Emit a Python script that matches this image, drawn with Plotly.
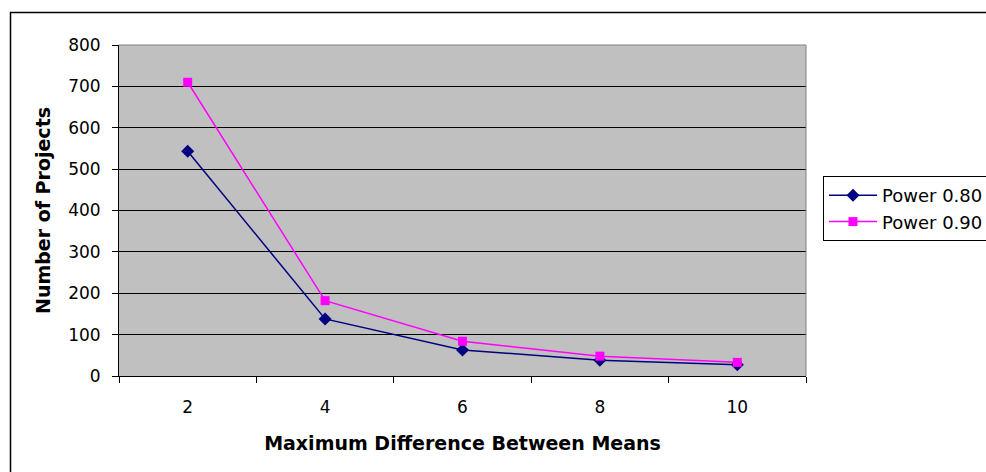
import plotly.graph_objects as go

categories = ["2", "4", "6", "8", "10"]
power_080 = [543, 138, 63, 38, 27]
power_090 = [710, 182, 84, 48, 33]
y_ticks = [0, 100, 200, 300, 400, 500, 600, 700, 800]

W, H = 986, 472
L, R, T, B = 119, 806, 45, 376
pw, ph = R - L, B - T

def px(x):
    return (x - L) / pw

def py(y):
    return (B - y) / ph

font = "DejaVu Sans, Arial, sans-serif"

fig = go.Figure()
fig.add_trace(go.Scatter(
    x=categories, y=power_080, mode="lines+markers", name="Power 0.80",
    line=dict(color="#000080", width=1.5),
    marker=dict(symbol="diamond", size=10, color="#000080"),
))
fig.add_trace(go.Scatter(
    x=categories, y=power_090, mode="lines+markers", name="Power 0.90",
    line=dict(color="#FF00FF", width=1.5),
    marker=dict(symbol="square", size=9, color="#FF00FF"),
))

fig.update_layout(
    width=W, height=H,
    margin=dict(l=L, r=W - R, t=T, b=H - B, pad=0, autoexpand=False),
    paper_bgcolor="white",
    plot_bgcolor="#C0C0C0",
    font=dict(family=font, size=17, color="black"),
    showlegend=True,
    legend=dict(
        x=px(823), y=py(176), xanchor="left", yanchor="top",
        bordercolor="black", borderwidth=1, bgcolor="white",
        font=dict(family=font, size=18, color="black"),
        tracegroupgap=0, itemwidth=48,
    ),
    xaxis=dict(
        type="category", tickson="boundaries", ticks="outside", ticklen=6,
        tickcolor="black", showline=True, linecolor="black", linewidth=1,
        showgrid=False, zeroline=False, range=[-0.5, 4.5],
        tickfont=dict(family=font, size=17), ticklabelstandoff=16,
        title=dict(text="<b>Maximum Difference Between Means</b>",
                   font=dict(family=font, size=19), standoff=20),
    ),
    yaxis=dict(
        range=[0, 800], tickvals=y_ticks, ticks="outside", ticklen=6,
        tickcolor="black", showline=True, linecolor="black", linewidth=1,
        showgrid=True, gridcolor="black", gridwidth=1, zeroline=False,
        tickfont=dict(family=font, size=17), ticklabelstandoff=8,
        title=dict(text="<b>Number of Projects</b>",
                   font=dict(family=font, size=19), standoff=12),
    ),
    shapes=[
        dict(type="line", xref="paper", yref="paper", x0=0, x1=1, y0=1, y1=1,
             line=dict(color="#808080", width=1)),
        dict(type="line", xref="paper", yref="paper", x0=1, x1=1, y0=0, y1=1,
             line=dict(color="#808080", width=1)),
        dict(type="rect", xref="paper", yref="paper",
             x0=px(10.5), x1=px(995), y0=py(12.5), y1=py(485),
             line=dict(color="black", width=1.5), layer="below"),
    ],
)

fig.write_html("out.html")
